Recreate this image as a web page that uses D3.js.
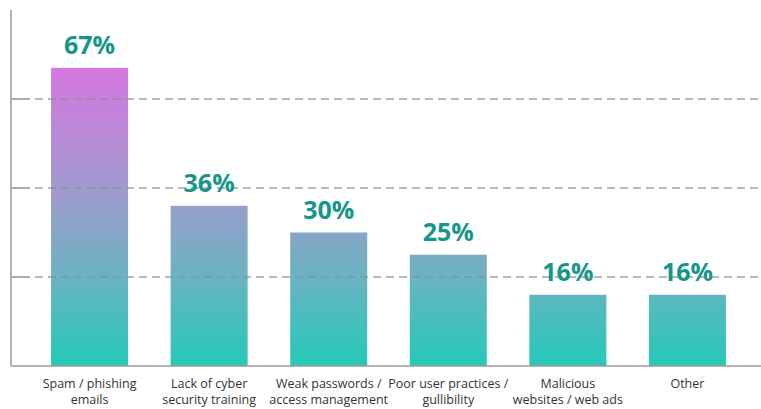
<!DOCTYPE html>
<html>
<head>
<meta charset="utf-8">
<script src="https://cdn.jsdelivr.net/npm/d3@7"></script>
<style>
  body { margin: 0; background: #fff; }
  svg { display: block; font-family: 'Open Sans', sans-serif; }
</style>
</head>
<body>
<svg width="761" height="409"></svg>
<script>
const categories = [
  'Spam / phishing|emails',
  'Lack of cyber|security training',
  'Weak passwords /|access management',
  'Poor user practices /|gullibility',
  'Malicious|websites / web ads',
  'Other'
]
const values = [67, 36, 30, 25, 16, 16]
const gridTicks = [20, 40, 60]

const svg = d3.select('svg')
const width = +svg.attr('width')

const x0 = 11, baseY = 366, topY = 10

const xScale = d3.scaleBand()
  .domain(categories)
  .range([x0, 766])
  .paddingInner(0.356)
  .paddingOuter(0.335)

const yScale = d3.scaleLinear()
  .domain([0, 80])
  .range([baseY, topY])

// gradient over the whole plot height, so short bars stay teal
const grad = svg.append('defs').append('linearGradient')
  .attr('id', 'barGrad')
  .attr('gradientUnits', 'userSpaceOnUse')
  .attr('x1', 0).attr('x2', 0)
  .attr('y1', yScale(0)).attr('y2', yScale(67))
grad.append('stop').attr('offset', '0%').attr('stop-color', '#25c9b7')
grad.append('stop').attr('offset', '30%').attr('stop-color', '#6ab3c2')
grad.append('stop').attr('offset', '55%').attr('stop-color', '#9a9dcb')
grad.append('stop').attr('offset', '100%').attr('stop-color', '#d677e0')

const data = categories.map((c, i) => ({ cat: c, v: values[i] }))

svg.selectAll('rect.bar').data(data)
  .enter().append('rect')
  .attr('class', 'bar')
  .attr('x', d => xScale(d.cat))
  .attr('width', xScale.bandwidth())
  .attr('y', d => yScale(d.v))
  .attr('height', d => yScale(0) - yScale(d.v))
  .style('fill', 'url(#barGrad)')

// grid lines (solid tick stub + dashes)
const grid = svg.append('g')
grid.selectAll('line.stub').data(gridTicks)
  .enter().append('line')
  .attr('x1', x0).attr('x2', 30)
  .attr('y1', d => yScale(d)).attr('y2', d => yScale(d))
  .style('stroke', '#8f8f8f').style('stroke-width', 1.5)
grid.selectAll('line.dash').data(gridTicks)
  .enter().append('line')
  .attr('x1', 35).attr('x2', width)
  .attr('y1', d => yScale(d)).attr('y2', d => yScale(d))
  .style('stroke', '#8f8f8f').style('stroke-width', 1.5)
  .style('stroke-dasharray', '8,5')
  .style('opacity', 0.8)

// axes
svg.append('line')
  .attr('x1', x0).attr('x2', x0)
  .attr('y1', topY).attr('y2', baseY)
  .style('stroke', '#9a9a9a').style('stroke-width', 1.5)
svg.append('line')
  .attr('x1', x0).attr('x2', width)
  .attr('y1', baseY).attr('y2', baseY)
  .style('stroke', '#9a9a9a').style('stroke-width', 1.5)

// value labels
svg.selectAll('text.val').data(data)
  .enter().append('text')
  .attr('x', d => xScale(d.cat) + xScale.bandwidth() / 2)
  .attr('y', d => yScale(d.v) - 14)
  .attr('text-anchor', 'middle')
  .style('font-size', '25px')
  .style('font-weight', 700)
  .style('fill', '#16968a')
  .text(d => d.v + '%')

// category labels
const cat = svg.selectAll('text.cat').data(data)
  .enter().append('text')
  .attr('text-anchor', 'middle')
  .attr('x', d => xScale(d.cat) + xScale.bandwidth() / 2)
  .attr('y', 388)
  .style('font-size', '12.5px')
  .style('fill', '#333')
cat.selectAll('tspan').data(d => d.cat.split('|').map(t => ({ t, x: xScale(d.cat) + xScale.bandwidth() / 2 })))
  .enter().append('tspan')
  .attr('x', d => d.x)
  .attr('dy', (d, i) => i ? 16 : 0)
  .text(d => d.t)
</script>
</body>
</html>
